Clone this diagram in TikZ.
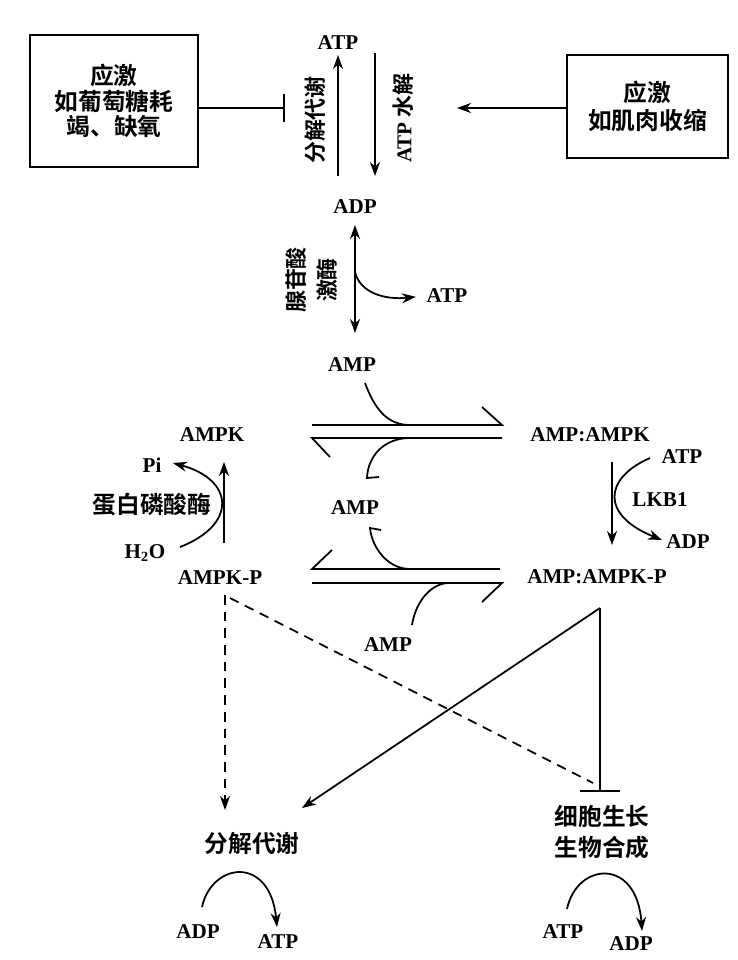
\documentclass[tikz,border=0pt]{standalone}
\usepackage{fontspec}
\setmainfont{Liberation Serif}
\newfontfamily\cjk{Noto Sans CJK SC}[BoldFont={Noto Sans CJK SC Bold}]
\usepackage{tikz}
\usetikzlibrary{arrows.meta}

\begin{document}
\begin{tikzpicture}[
  x=0.02cm,y=-0.02cm,
  arr/.style={-{Stealth[length=2.8mm,width=2mm]},line width=1pt},
  dblarr/.style={{Stealth[length=2.8mm,width=2mm]}-{Stealth[length=2.8mm,width=2mm]},line width=1pt},
  inhib/.style={-{Bar[width=5.6mm]},line width=1pt},
  plain/.style={line width=1pt},
  dashedarr/.style={-{Stealth[length=2.8mm,width=2mm]},line width=1pt,dash pattern=on 5.5pt off 4pt},
  dashedline/.style={line width=1pt,dash pattern=on 5.5pt off 4pt},
  chem/.style={font=\fontsize{12}{13.5}\selectfont\bfseries,inner sep=1pt},
  zh/.style={font=\fontsize{13.5}{15}\selectfont\cjk\bfseries,align=center,inner sep=1pt},
  stressbox/.style={draw,line width=1pt,align=center,inner sep=0pt}
]
  \useasboundingbox (0,0) rectangle (737,960);

  \node[stressbox,zh,font=\fontsize{13.5}{14.5}\selectfont\cjk\bfseries,minimum width=3.36cm,minimum height=2.64cm] (lbox) at (114,101)
    {应激\\如葡萄糖耗\\竭、缺氧};
  \node[stressbox,zh,font=\fontsize{13.5}{15.5}\selectfont\cjk\bfseries,minimum width=3.22cm,minimum height=2.06cm] (rbox) at (647.5,106.5)
    {应激\\如肌肉收缩};

  \foreach \n/\x/\y/\t in {atpT/338/43/ATP,adpT/355/207/ADP,atpK/447/296/ATP,
      ampT/352/365/AMP,ampM/355/508/AMP,ampB/388/645/AMP,
      ampk/212/435/AMPK,ampkp/220/578/AMPK-P,pi/152/465/Pi,h2o/145/553/H\textsubscript{2}O,
      cplx/590/435/AMP:AMPK,cplxp/597/577/AMP:AMPK-P,
      atpL/682/457/ATP,lkb/660/500/LKB1,adpL/688/542/ADP,
      adpC/198/932/ADP,atpC/278/942/ATP,atpG/563/932/ATP,adpG/631/944/ADP}{
    \node[chem] (\n) at (\x,\y) {\t};
  }

  % ATP / ADP
  \coordinate (catbar) at (285,108);
  \coordinate (hydtip) at (457,108);
  \draw[inhib] (lbox.east |- catbar) -- (catbar);
  \draw[arr] (rbox.west |- hydtip) -- (hydtip);

  \coordinate (catS) at (338,176);
  \coordinate (catE) at (338,55);
  \coordinate (hydS) at (375,53);
  \coordinate (hydE) at (375,176);
  \draw[arr] (catS) -- (catE);
  \draw[arr] (hydS) -- (hydE);
  \node[zh,rotate=90,font=\fontsize{12.5}{14}\selectfont\cjk\bfseries] (catlbl) at (315,120) {分解代谢};
  \node[chem,rotate=90] (hydlbl) at (403,118) {ATP {\cjk\fontsize{12.5}{14}\selectfont 水解}};

  % adenylate kinase
  \coordinate (akT) at (355,225);
  \coordinate (akB) at (355,333);
  \coordinate (akM) at (355,272);
  \draw[dblarr] (akT) -- (akB);
  \draw[arr,shorten >=5pt] (akM) .. controls (360,293) and (385,300) .. (atpK.west);
  \node[zh,rotate=90,font=\fontsize{12.5}{17.5}\selectfont\cjk\bfseries] (aklbl) at (312,280) {腺苷酸\\激酶};

  % AMP binding
  \coordinate (e1L) at (312,425);
  \coordinate (e1R) at (502,425);
  \coordinate (e2L) at (312,438);
  \coordinate (e2R) at (502,438);
  \draw[plain] (e1L) -- (e1R) -- ++(-20,-18);
  \draw[plain] (e2R) -- (e2L) -- ++(18,19);
  \draw[plain] (365,383) .. controls (375,410) and (388,425) .. (410,425);
  \draw[plain] (410,438) .. controls (385,438) and (368,455) .. (367,478) -- ++(12,-1);

  \coordinate (e3L) at (312,569);
  \coordinate (e3R) at (500,569);
  \coordinate (e4L) at (312,583);
  \coordinate (e4R) at (502,583);
  \draw[plain] (e3R) -- (e3L) -- ++(20,-19);
  \draw[plain] (e4L) -- (e4R) -- ++(-20,19);
  \draw[plain] (410,569) .. controls (388,569) and (372,548) .. (370,528) -- ++(11,2);
  \draw[plain] (447,583) .. controls (428,585) and (415,605) .. (412,625);

  % dephosphorylation
  \coordinate (ppS) at (224,543);
  \coordinate (ppE) at (224,462);
  \coordinate (h2oS) at (180,547);
  \coordinate (piE) at (173,463);
  \draw[arr] (ppS) -- (ppE);
  \draw[arr] (h2oS) .. controls (237,525) and (235,480) .. (piE);
  \node[zh] (ppase) at (152,505) {蛋白磷酸酶};

  % LKB1
  \coordinate (lkS) at (612,462);
  \coordinate (lkE) at (612,545);
  \coordinate (atpS) at (650,458);
  \coordinate (adpE) at (662,540);
  \draw[arr] (lkS) -- (lkE);
  \draw[arr] (atpS) .. controls (604,478) and (600,515) .. (adpE);

  % effects
  \node[zh] (catab) at (252,844) {分解代谢};
  \node[zh,font=\fontsize{13.5}{17.5}\selectfont\cjk\bfseries] (growth) at (602,832) {细胞生长\\生物合成};
  \coordinate (apex) at (600,608);
  \coordinate (dS) at (225,595);
  \coordinate (dE) at (225,810);
  \coordinate (xS) at (230,598);
  \coordinate (xE) at (593,783);
  \coordinate (catT) at (302,808);
  \coordinate (grT) at (600,792);
  \draw[dashedarr] (dS) -- (dE);
  \draw[dashedline] (xS) -- (xE);
  \draw[arr] (apex) -- (catT);
  \draw[-{Bar[width=8mm]},line width=1pt] (apex) -- (grT);

  \draw[arr] (202,907) .. controls (212,862) and (270,855) .. (277,927);
  \draw[arr] (567,909) .. controls (577,862) and (637,857) .. (642,931);
\end{tikzpicture}
\end{document}
